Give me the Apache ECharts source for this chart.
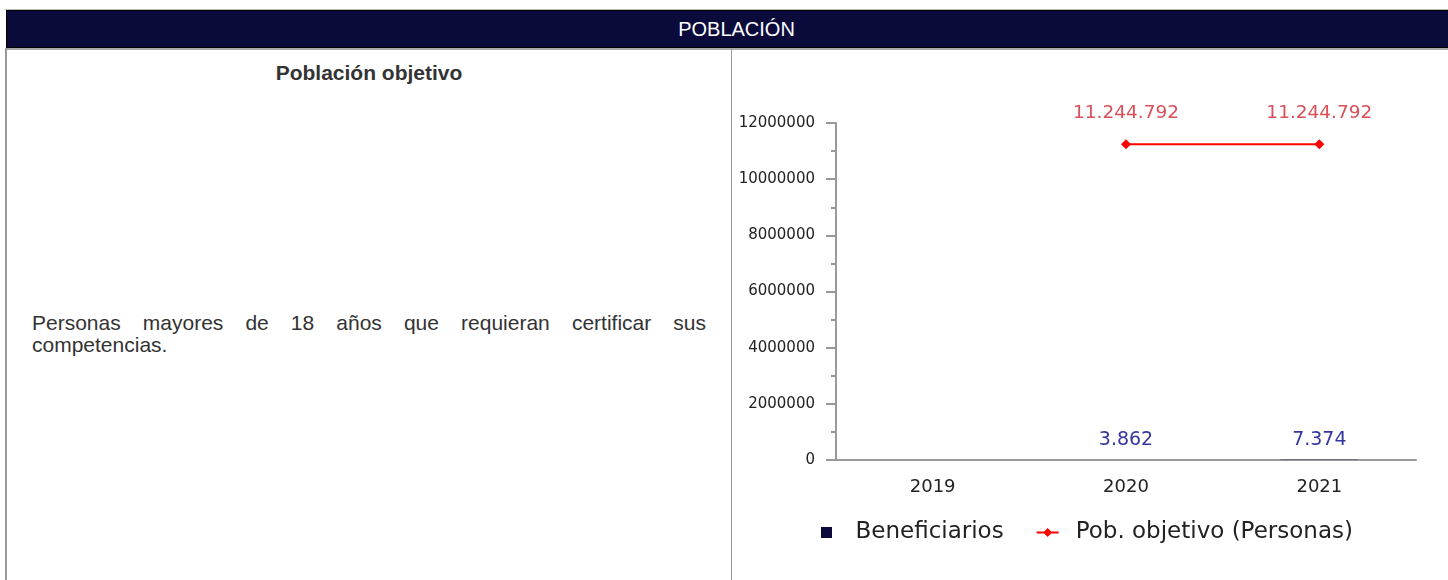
<!DOCTYPE html>
<html>
<head>
<meta charset="utf-8">
<title>Población</title>
<script src="https://cdn.jsdelivr.net/npm/echarts@6/dist/echarts.min.js"></script>
<style>
    body {margin:0; width:1448px; height:580px; overflow:hidden; background:#fff; font-family:"Liberation Sans", Arial, sans-serif;}
    .abs {position:absolute;}
    #topline {left:5px; top:9px; width:1443px; height:1px; background:#bbb;}
    #head {left:6px; top:10px; width:1442px; height:38px; box-sizing:border-box; padding-left:18px; background:#0b0b3b; border:1px solid #000; border-right:none;
        color:#fff; font-size:20px; line-height:36px; text-align:center;}
    #midline {left:5px; top:48px; width:1443px; height:2px; background:#aaa;}
    #leftline {left:5px; top:48px; width:2px; height:532px; background:#999;}
    #divider {left:731px; top:48px; width:1px; height:532px; background:#999;}
    #cellTitle {left:7px; width:724px; top:61px; line-height:24px; text-align:center; font-weight:bold; font-size:21px; color:#333;}
    #cellText {left:32px; width:674px; top:312px; text-align:justify; font-size:21px; line-height:22px; color:#333;}
    #chart {left:733px; top:50px; width:715px; height:530px;}
</style>
</head>
<body>
<div class="abs" id="topline"></div>
<div class="abs" id="head">POBLACIÓN</div>
<div class="abs" id="midline"></div>
<div class="abs" id="leftline"></div>
<div class="abs" id="divider"></div>
<div class="abs" id="cellTitle">Población objetivo</div>
<div class="abs" id="cellText">Personas mayores de 18 años que requieran certificar sus competencias.</div>
<div class="abs" id="chart"></div>
<script>
    // valores
    const years = ['2019', '2020', '2021'];
    const beneficiarios = [null, 3862, 7374];
    const pobObjetivo = [null, 11244792, 11244792];
    const seriesNames = ['Beneficiarios', 'Pob. objetivo (Personas)'];

    const chartFont = 'DejaVu Sans';

    function miles(v) {
        return String(v).replace(/\B(?=(\d{3})+(?!\d))/g, '.');
    }

    let chart = echarts.init(document.getElementById('chart'));
    chart.setOption({
        animation: false,
        grid: {left: 103, right: 32, top: 73, bottom: 120},
        legend: {
            left: 83,
            top: 466,
            itemWidth: 22,
            itemHeight: 11,
            itemGap: 32,
            textStyle: {fontFamily: chartFont, fontSize: 23, color: '#222'},
            data: [
                {name: seriesNames[0], icon: 'path://M0,0h11v11h-11z', textStyle: {padding: [0, 0, 0, 13]}},
                {name: seriesNames[1], textStyle: {padding: [0, 0, 0, 12]}}
            ]
        },
        xAxis: {
            type: 'category',
            data: years,
            axisLine: {lineStyle: {color: '#999', width: 2}},
            axisTick: {show: false},
            axisLabel: {fontFamily: chartFont, fontSize: 18, color: '#222', margin: 18}
        },
        yAxis: {
            type: 'value',
            min: 0,
            max: 12000000,
            interval: 2000000,
            axisLine: {show: true, lineStyle: {color: '#999', width: 2}},
            axisTick: {show: true, length: 10, lineStyle: {color: '#999', width: 2}},
            minorTick: {show: true, splitNumber: 2, length: 5, lineStyle: {color: '#999', width: 2}},
            splitLine: {show: false},
            axisLabel: {fontFamily: chartFont, fontSize: 15, color: '#222', margin: 21, formatter: v => String(v)}
        },
        series: [
            {
                name: seriesNames[0],
                type: 'bar',
                data: beneficiarios,
                barWidth: '40%',
                itemStyle: {color: '#0b0b3b'},
                label: {
                    show: true, position: 'top', distance: 10,
                    fontFamily: chartFont, fontSize: 19, color: '#3535a0',
                    formatter: p => miles(p.value)
                }
            },
            {
                name: seriesNames[1],
                type: 'line',
                data: pobObjetivo,
                color: '#ff0000',
                symbol: 'diamond',
                symbolSize: 10,
                lineStyle: {width: 2},
                label: {
                    show: true, position: 'top', distance: 17,
                    fontFamily: chartFont, fontSize: 18.5, color: '#d9505b',
                    formatter: p => miles(p.value)
                }
            }
        ]
    });
</script>
</body>
</html>
